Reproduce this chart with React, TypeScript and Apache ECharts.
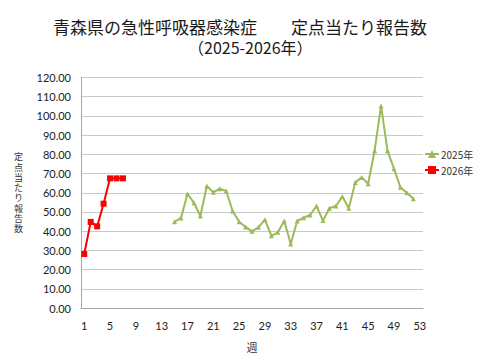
import React, { useEffect, useRef } from "react";
import * as echarts from "echarts";

const weeks: string[] = Array.from({ length: 53 }, (_, i) => String(i + 1));

// 2025年: weeks 15..52
const start2025 = 15;
const values2025: number[] = [
  44.9, 46.9, 59.5, 54.8, 47.9, 63.5, 60.2, 62.1, 60.9, 50.5,
  44.9, 42.2, 39.9, 42.0, 46.0, 37.6, 39.4, 45.3, 33.3, 45.3,
  47.0, 48.4, 53.1, 45.5, 51.9, 53.1, 58.0, 51.9, 65.4, 68.0,
  64.7, 81.9, 105.2, 81.9, 72.5, 62.8, 60.0, 56.9,
];

// 2026年: weeks 1..7
const values2026: number[] = [28.1, 44.8, 42.5, 54.3, 67.5, 67.5, 67.5];

const seriesNames = ["2025年", "2026年"];
const titleText = "青森県の急性呼吸器感染症　　定点当たり報告数";
const subtitleText = "（2025-2026年）";
const yAxisName = "定点当たり報告数";
const xAxisName = "週";

function padSeries(vals: number[], startWeek: number): (number | null)[] {
  return weeks.map((_, i) => {
    const idx = i + 1 - startWeek;
    return idx >= 0 && idx < vals.length ? vals[idx] : null;
  });
}

export default function App() {
  const ref = useRef<HTMLDivElement>(null);
  useEffect(() => {
    if (!ref.current) return;
    document.body.style.margin = "0";
    const chart = echarts.init(ref.current, null, { renderer: "svg" });
    const numFont = "Lato, 'Noto Sans', sans-serif";
    const jpFont = "'Noto Sans CJK JP', sans-serif";
    chart.setOption({
      animation: false,
      backgroundColor: "#ffffff",
      title: [
        {
          text: titleText,
          left: "center",
          top: 13,
          textStyle: {
            fontFamily: jpFont,
            fontSize: 17,
            fontWeight: "normal",
            color: "#1a1a1a",
          },
        },
        {
          text: subtitleText,
          left: 183,
          top: 34,
          textStyle: {
            fontFamily: jpFont,
            fontSize: 16,
            fontWeight: "normal",
            color: "#1a1a1a",
          },
        },
      ],
      legend: {
        orient: "vertical",
        left: 424,
        top: 149,
        padding: 0,
        itemGap: 6,
        itemWidth: 14,
        itemHeight: 10,
        data: seriesNames,
        textStyle: {
          fontFamily: jpFont,
          fontSize: 10,
          color: "#333",
          padding: [0, 0, 0, -3],
        },
      },
      grid: { left: 81, right: 57, top: 77.5, bottom: 52, outerBoundsMode: "none", containLabel: false },
      xAxis: {
        type: "category",
        data: weeks,
        boundaryGap: true,
        name: xAxisName,
        nameLocation: "middle",
        nameGap: 33,
        nameTextStyle: {
          fontFamily: jpFont,
          fontSize: 11,
          color: "#333",
        },
        axisLine: { lineStyle: { color: "#a6a6a6" } },
        axisTick: { interval: 3, length: 5, lineStyle: { color: "#a6a6a6" } },
        axisLabel: {
          interval: 3,
          fontFamily: numFont,
          fontSize: 11,
          color: "#222",
          margin: 12,
        },
      },
      yAxis: {
        type: "value",
        min: 0,
        max: 120,
        interval: 10,
        name: yAxisName.split("").join("\n"),
        nameLocation: "middle",
        nameRotate: 0,
        nameGap: 58,
        nameTextStyle: {
          fontFamily: jpFont,
          fontSize: 9,
          lineHeight: 10.3,
          color: "#333",
        },
        axisLine: { show: true, lineStyle: { color: "#a6a6a6" } },
        axisTick: { show: false },
        splitLine: { lineStyle: { color: "#c8c8c8" } },
        axisLabel: {
          fontFamily: numFont,
          fontSize: 11,
          color: "#222",
          margin: 10,
          formatter: (v: number) => v.toFixed(2),
        },
      },
      series: [
        {
          name: seriesNames[0],
          type: "line",
          data: padSeries(values2025, start2025),
          color: "#9bbb59",
          symbol: "triangle",
          symbolSize: 5,
          showAllSymbol: true,
          lineStyle: { width: 2, color: "#9bbb59" },
          itemStyle: { color: "#9bbb59" },
          connectNulls: false,
        },
        {
          name: seriesNames[1],
          type: "line",
          data: padSeries(values2026, 1),
          color: "#ff0000",
          symbol: "rect",
          symbolSize: 6,
          showAllSymbol: true,
          lineStyle: { width: 2, color: "#ff0000" },
          itemStyle: { color: "#ff0000" },
        },
      ],
    });
    return () => chart.dispose();
  }, []);
  return <div ref={ref} style={{ width: 480, height: 360 }} />;
}
